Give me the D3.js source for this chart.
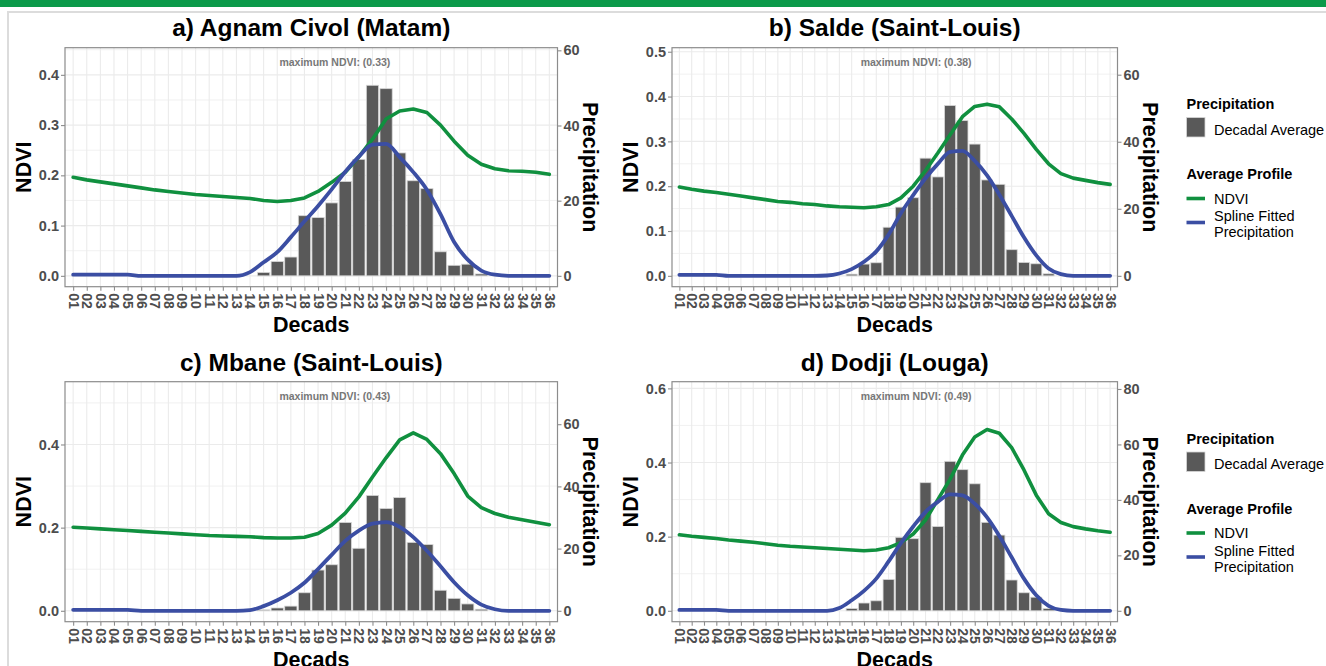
<!DOCTYPE html>
<html>
<head>
<meta charset="utf-8">
<script src="https://cdn.jsdelivr.net/npm/d3@7"></script>
<style>
  html, body { margin: 0; padding: 0; background: #ffffff; }
  svg { display: block; font-family: "Liberation Sans", Arial, Helvetica, sans-serif; }
</style>
</head>
<body>
<svg id="chart" width="1326" height="666"></svg>
<script>
// ---------------- DATA ----------------
const decades = ["01","02","03","04","05","06","07","08","09","10","11","12","13","14","15","16","17","18",
                 "19","20","21","22","23","24","25","26","27","28","29","30","31","32","33","34","35","36"];

const panelTitles = ["a) Agnam Civol (Matam)", "b) Salde (Saint-Louis)", "c) Mbane (Saint-Louis)", "d) Dodji (Louga)"];

// NDVI average profiles (left axis)
const ndviAgnam = [0.196,0.191,0.187,0.183,0.179,0.175,0.171,0.168,0.165,0.162,0.160,0.158,0.156,0.154,0.150,0.148,0.150,0.155,
                   0.168,0.186,0.206,0.237,0.272,0.312,0.328,0.332,0.325,0.300,0.268,0.240,0.222,0.213,0.209,0.208,0.206,0.202];
const ndviSalde = [0.198,0.193,0.189,0.186,0.182,0.178,0.174,0.170,0.166,0.164,0.161,0.159,0.156,0.154,0.153,0.152,0.154,0.159,
                   0.174,0.200,0.235,0.274,0.315,0.355,0.378,0.383,0.377,0.350,0.318,0.282,0.250,0.228,0.218,0.213,0.208,0.204];
const ndviMbane = [0.201,0.199,0.197,0.195,0.193,0.191,0.189,0.187,0.185,0.183,0.181,0.180,0.179,0.178,0.176,0.175,0.175,0.177,
                   0.186,0.206,0.235,0.274,0.322,0.368,0.411,0.428,0.412,0.378,0.330,0.276,0.248,0.234,0.225,0.219,0.213,0.207];
const ndviDodji = [0.205,0.201,0.198,0.195,0.191,0.188,0.185,0.181,0.177,0.174,0.172,0.170,0.168,0.166,0.164,0.162,0.164,0.170,
                   0.184,0.207,0.245,0.300,0.355,0.420,0.469,0.489,0.479,0.440,0.380,0.312,0.262,0.238,0.227,0.221,0.216,0.212];

// Decadal average precipitation (bars, right axis)
const rainAgnam = [0,0,0,0,0,0,0,0,0,0,0,0,0,0,0.9,3.8,5.0,16.0,15.5,19.4,25.1,31.0,50.7,49.8,32.7,25.3,23.2,6.4,2.8,3.1,0.5,0,0,0,0,0];
const rainSalde = [0,0,0,0,0,0,0,0,0,0,0,0,0,0,0.5,3.5,3.9,14.5,20.5,23.3,35.1,29.5,50.8,46.3,39.3,28.6,27.3,7.8,4.0,3.6,0.6,0,0,0,0,0];
const rainMbane = [0,0,0,0,0,0,0,0,0,0,0,0,0,0,0.3,0.9,1.5,5.8,13.1,14.8,28.4,20.1,37.1,32.9,36.4,22.0,21.3,6.6,4.0,2.2,0.5,0,0,0,0,0];
const rainDodji = [0,0,0,0,0,0,0,0,0,0,0,0,0,0,0.8,2.8,3.6,11.3,26.5,26.0,46.2,30.4,53.9,50.9,45.8,31.9,27.3,11.1,6.5,4.9,0.8,0,0,0,0,0];

// Spline fitted precipitation (right axis)
const splineAgnam = [0.3,0.3,0.3,0.3,0.3,0,0,0,0,0,0,0,0,1.0,3.6,6.3,10.3,14.5,18.6,23.0,27.7,31.7,34.9,35.1,31.6,27.6,22.9,16.4,9.0,4.3,1.4,0.3,0,0,0,0];
const splineSalde = [0.3,0.3,0.3,0.3,0,0,0,0,0,0,0,0,0.1,0.7,2.0,4.2,7.3,12.3,18.7,24.1,29.1,33.4,37.0,37.3,34.3,30.0,24.2,17.9,11.5,6.1,2.2,0.5,0,0,0,0];
const splineMbane = [0.3,0.3,0.3,0.3,0.3,0,0,0,0,0,0,0,0,0.2,1.5,3.4,5.8,9.0,13.4,18.0,22.5,25.8,28.0,28.5,27.0,23.7,19.3,14.3,9.2,5.0,2.0,0.5,0,0,0,0];
const splineDodji = [0.3,0.3,0.3,0.3,0,0,0,0,0,0,0,0,0,1.0,3.8,7.2,11.6,17.8,24.4,30.4,35.7,39.3,42.0,41.6,38.6,33.7,27.0,19.3,11.6,5.6,1.8,0.3,0,0,0,0];

// Tick values
const ndviTicksAgnam = [0, 0.1, 0.2, 0.3, 0.4];
const ndviTicksSalde = [0, 0.1, 0.2, 0.3, 0.4, 0.5];
const ndviTicksMbane = [0, 0.2, 0.4];
const ndviTicksDodji = [0, 0.2, 0.4, 0.6];
const rainTicksAgnam = [0, 20, 40, 60];
const rainTicksSalde = [0, 20, 40, 60];
const rainTicksMbane = [0, 20, 40, 60];
const rainTicksDodji = [0, 20, 40, 60, 80];

// Upper limit of each NDVI axis, and the secondary-axis factor (Precipitation = NDVI * factor)
const ndviAxisTop = [0.454, 0.509, 0.551, 0.618];
const secAxisFactor = 133.7;

const legendPrecipTitle = "Precipitation";
const legendPrecipItems = ["Decadal Average"];
const legendProfileTitle = "Average Profile";
const legendProfileItems = [["NDVI"], ["Spline Fitted", "Precipitation"]];

// ---------------- STYLE / LAYOUT ----------------
const C = {
  green: "#10903f",
  blue: "#3b4ea3",
  bar: "#595959",
  barStroke: "#d6d6d6",
  grid: "#ebebeb",
  border: "#8c8c8c",
  tickText: "#4d4d4d",
  annot: "#777777"
};

const panels = [
  { title: panelTitles[0], ndvi: ndviAgnam, rain: rainAgnam, spline: splineAgnam, nt: ndviTicksAgnam, rt: rainTicksAgnam, top: ndviAxisTop[0],
    box: { l: 65, r: 557.5, t: 47.7, b: 286.7 }, titleY: 36, legend: false },
  { title: panelTitles[1], ndvi: ndviSalde, rain: rainSalde, spline: splineSalde, nt: ndviTicksSalde, rt: rainTicksSalde, top: ndviAxisTop[1],
    box: { l: 672, r: 1117.5, t: 47.7, b: 286.7 }, titleY: 36, legend: true, legendY: 109 },
  { title: panelTitles[2], ndvi: ndviMbane, rain: rainMbane, spline: splineMbane, nt: ndviTicksMbane, rt: rainTicksMbane, top: ndviAxisTop[2],
    box: { l: 65, r: 557.5, t: 381.7, b: 621.7 }, titleY: 370.5, legend: false },
  { title: panelTitles[3], ndvi: ndviDodji, rain: rainDodji, spline: splineDodji, nt: ndviTicksDodji, rt: rainTicksDodji, top: ndviAxisTop[3],
    box: { l: 672, r: 1117.5, t: 381.7, b: 621.7 }, titleY: 370.5, legend: true, legendY: 443.5 }
];

const svg = d3.select("#chart");
svg.append("rect").attr("x", 0).attr("y", 0).attr("width", 1326).attr("height", 666).attr("fill", "#ffffff");
// top green band and light frame
svg.append("rect").attr("x", 0).attr("y", 0).attr("width", 1326).attr("height", 7).attr("fill", "#0b9a4a");
svg.append("rect").attr("x", 8).attr("y", 12).attr("width", 1330).attr("height", 670)
   .attr("fill", "none").attr("stroke", "#dcdcdc").attr("stroke-width", 2);

function drawPanel(p) {
  const { l, r, t, b } = p.box;
  const x = d3.scalePoint().domain(decades).range([l, r]).padding(0.6);
  const step = x.step();
  const yN = d3.scaleLinear().domain([-0.05 / 1.05 * p.top, p.top]).range([b, t]);
  const yP = d3.scaleLinear().domain(yN.domain().map(v => v * secAxisFactor)).range([b, t]);

  const g = svg.append("g");

  // panel background
  g.append("rect").attr("x", l).attr("y", t).attr("width", r - l).attr("height", b - t).attr("fill", "#ffffff");

  // grid: minor horizontal (halfway between NDVI ticks)
  const half = (p.nt[1] - p.nt[0]) / 2;
  const minor = d3.range(p.nt[0] + half, yN.domain()[1], half * 2);
  g.selectAll(".gmin").data(minor).join("line")
    .attr("x1", l).attr("x2", r).attr("y1", d => yN(d)).attr("y2", d => yN(d))
    .attr("stroke", C.grid).attr("stroke-width", 0.7);
  g.selectAll(".gmaj").data(p.nt).join("line")
    .attr("x1", l).attr("x2", r).attr("y1", d => yN(d)).attr("y2", d => yN(d))
    .attr("stroke", C.grid).attr("stroke-width", 1.1);
  g.selectAll(".gv").data(decades).join("line")
    .attr("x1", d => x(d)).attr("x2", d => x(d)).attr("y1", t).attr("y2", b)
    .attr("stroke", C.grid).attr("stroke-width", 1.1);

  // bars
  const bw = step * 0.9;
  g.selectAll(".bar").data(decades.map((d, i) => ({ d, v: p.rain[i] })).filter(e => e.v > 0)).join("rect")
    .attr("x", e => x(e.d) - bw / 2).attr("width", bw)
    .attr("y", e => yP(e.v)).attr("height", e => yP(0) - yP(e.v))
    .attr("fill", C.bar).attr("stroke", C.barStroke).attr("stroke-width", 0.8);

  // NDVI line
  const lineN = d3.line().x((v, i) => x(decades[i])).y(v => yN(v)).curve(d3.curveLinear);
  g.append("path").attr("d", lineN(p.ndvi)).attr("fill", "none").attr("stroke", C.green)
    .attr("stroke-width", 3.6).attr("stroke-linejoin", "round").attr("stroke-linecap", "round");
  // spline precipitation line
  const lineP = d3.line().x((v, i) => x(decades[i])).y(v => yP(v)).curve(d3.curveMonotoneX);
  g.append("path").attr("d", lineP(p.spline)).attr("fill", "none").attr("stroke", C.blue)
    .attr("stroke-width", 3.8).attr("stroke-linejoin", "round").attr("stroke-linecap", "round");

  // panel border
  g.append("rect").attr("x", l).attr("y", t).attr("width", r - l).attr("height", b - t)
    .attr("fill", "none").attr("stroke", C.border).attr("stroke-width", 1.2);

  // annotation
  const maxN = d3.max(p.ndvi);
  g.append("text").attr("x", l + (r - l) * 0.548).attr("y", t + 15).attr("dy", "0.35em")
    .attr("text-anchor", "middle").attr("font-size", 10.5).attr("font-weight", "bold").attr("fill", C.annot)
    .text(`maximum NDVI: (${maxN.toFixed(2)})`);

  // left axis
  const axL = g.append("g").attr("transform", `translate(${l},0)`)
    .call(d3.axisLeft(yN).tickValues(p.nt).tickFormat(d3.format(".1f")).tickSize(4).tickPadding(2));
  // right axis
  const axR = g.append("g").attr("transform", `translate(${r},0)`)
    .call(d3.axisRight(yP).tickValues(p.rt).tickFormat(d3.format("d")).tickSize(4).tickPadding(2));
  // bottom axis
  const axB = g.append("g").attr("transform", `translate(0,${b})`)
    .call(d3.axisBottom(x).tickSize(4).tickPadding(2));
  [axL, axR, axB].forEach(a => {
    a.select(".domain").remove();
    a.selectAll(".tick line").attr("stroke", C.border).attr("stroke-width", 1.1);
    a.selectAll(".tick text").attr("fill", C.tickText).attr("font-weight", "bold")
      .attr("font-family", "'Liberation Sans', Arial, sans-serif");
  });
  axL.selectAll(".tick text").attr("font-size", 14.5);
  axR.selectAll(".tick text").attr("font-size", 14.5);
  axB.selectAll(".tick text").attr("font-size", 14)
    .attr("transform", "rotate(90)").attr("x", 6.5).attr("y", 0).attr("dy", "0.36em")
    .style("text-anchor", "start");

  // titles
  g.append("text").attr("x", (l + r) / 2).attr("y", p.titleY).attr("text-anchor", "middle")
    .attr("font-size", 24.5).attr("font-weight", "bold").attr("fill", "#000").text(p.title);
  g.append("text").attr("transform", `translate(${l - 42},${(t + b) / 2}) rotate(-90)`)
    .attr("dy", "0.36em").attr("text-anchor", "middle").attr("font-size", 21.5).attr("font-weight", "bold")
    .attr("fill", "#000").text("NDVI");
  g.append("text").attr("transform", `translate(${r + 33},${(t + b) / 2}) rotate(90)`)
    .attr("dy", "0.36em").attr("text-anchor", "middle").attr("font-size", 21.5).attr("font-weight", "bold")
    .attr("fill", "#000").text("Precipitation");
  g.append("text").attr("x", (l + r) / 2).attr("y", b + 45).attr("text-anchor", "middle")
    .attr("font-size", 21.5).attr("font-weight", "bold").attr("fill", "#000").text("Decads");

  if (p.legend) drawLegend(1186.5, p.legendY);
}

function drawLegend(lx, ty) {
  const g = svg.append("g");
  const tx = 1214;
  g.append("text").attr("x", lx).attr("y", ty).attr("font-size", 14.5).attr("font-weight", "bold").text(legendPrecipTitle);
  g.append("rect").attr("x", lx).attr("y", ty + 8.5).attr("width", 18.5).attr("height", 19.5)
    .attr("fill", C.bar).attr("stroke", C.barStroke).attr("stroke-width", 0.8);
  g.append("text").attr("x", tx).attr("y", ty + 25.5).attr("font-size", 14.5).text(legendPrecipItems[0]);

  g.append("text").attr("x", lx).attr("y", ty + 70).attr("font-size", 14.5).attr("font-weight", "bold").text(legendProfileTitle);
  const keyY = [ty + 89.5, ty + 113.5];
  const keyC = [C.green, C.blue];
  legendProfileItems.forEach((lines, i) => {
    g.append("line").attr("x1", lx).attr("x2", lx + 18.5).attr("y1", keyY[i]).attr("y2", keyY[i])
      .attr("stroke", keyC[i]).attr("stroke-width", 3.6);
    const first = lines.length === 1 ? keyY[i] + 5 : keyY[i] - 1.5;
    lines.forEach((s, j) => {
      g.append("text").attr("x", tx).attr("y", first + j * 16).attr("font-size", 14.5).text(s);
    });
  });
}

panels.forEach(drawPanel);
</script>
</body>
</html>
